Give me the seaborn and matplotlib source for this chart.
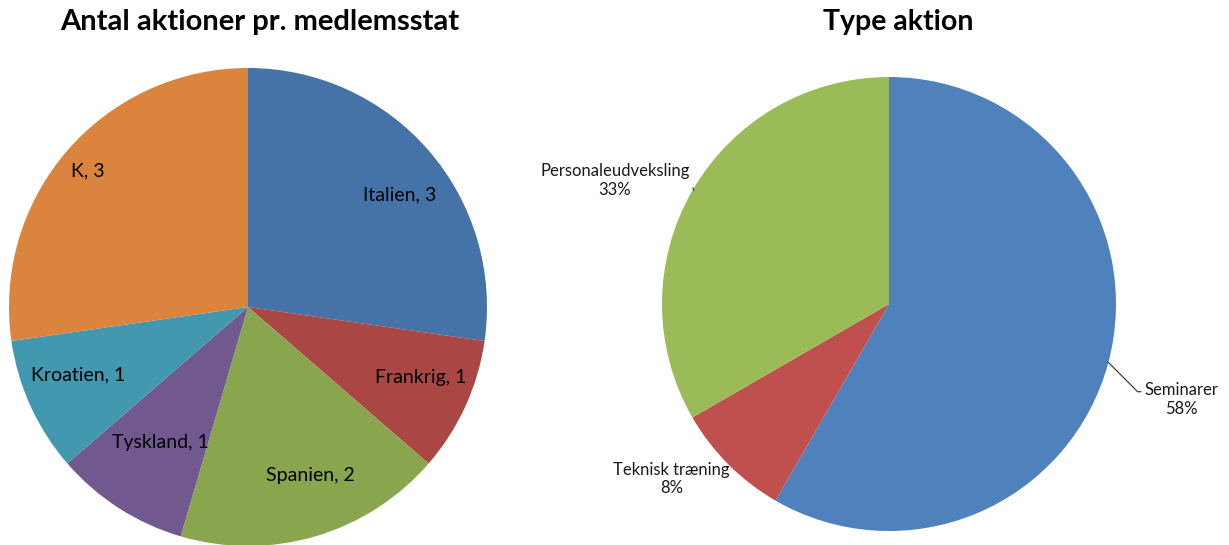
import numpy as np
import seaborn as sns
import matplotlib
matplotlib.use("Agg")
import matplotlib.pyplot as plt

# data
countries = ["Italien", "Frankrig", "Spanien", "Tyskland", "Kroatien", "K"]
country_counts = [3, 1, 2, 1, 1, 3]
country_colors = ["#4572A7", "#AA4643", "#89A54E", "#71588F", "#4198AF", "#DB843D"]

action_types = ["Seminarer", "Teknisk træning", "Personaleudveksling"]
action_counts = [7, 1, 4]
action_colors = ["#4F81BD", "#C0504D", "#9BBB59"]

sns.set_theme(style="white")
plt.rcParams['font.family'] = ['Lato', 'DejaVu Sans']

W, H = 1229, 545
fig = plt.figure(figsize=(W / 100, H / 100), dpi=100)


def px_axes(cx, cy, r):
    # square axes centred on pixel (cx, cy) with radius r
    return fig.add_axes([(cx - r) / W, (H - cy - r) / H, 2 * r / W, 2 * r / H])


# left pie
ax1 = px_axes(248, 307, 239)
labels1 = [f"{c}, {n}" for c, n in zip(countries, country_counts)]
wedges, texts = ax1.pie(country_counts, labels=labels1, colors=country_colors,
                        startangle=90, counterclock=False, radius=1,
                        labeldistance=0.78,
                        wedgeprops=dict(linewidth=0),
                        textprops=dict(fontsize=14, color="#000000", ha="center", va="center"))
# label placement inside the slices (in pie-radius units), as Excel put them
label_pos = [(0.636, 0.469), (0.724, -0.293), (0.259, -0.707),
             (-0.368, -0.565), (-0.711, -0.285), (-0.669, 0.569)]
for t, p in zip(texts, label_pos):
    t.set_position(p)
    t.set_ha("center")
    t.set_va("center")
ax1.set_xlim(-1, 1)
ax1.set_ylim(-1, 1)
ax1.set_aspect("equal")
ax1.axis("off")
fig.text(260 / W, 1 - 22 / H, "Antal aktioner pr. medlemsstat", ha="center", va="center",
         fontsize=21, fontweight="bold", color="#000000")

# right pie
ax2 = px_axes(889, 304, 227)
wedges2, _ = ax2.pie(action_counts, colors=action_colors, startangle=90,
                     counterclock=False, radius=1, wedgeprops=dict(linewidth=0))
ax2.set_xlim(-1, 1)
ax2.set_ylim(-1, 1)
ax2.set_aspect("equal")
ax2.axis("off")

total = sum(action_counts)
pcts = [f"{round(100 * n / total)}%" for n in action_counts]
lbl_kw = dict(fontsize=12, color="#1a1a1a", multialignment="center", va="center")

# Seminarer with leader line
ax2.annotate(f"{action_types[0]}\n{pcts[0]}", xy=(0.965, -0.256), xytext=(1.125, -0.42),
             ha="left", **lbl_kw,
             arrowprops=dict(arrowstyle="-", color="#404040", lw=0.9, relpos=(0, 0.72),
                             shrinkA=0, shrinkB=0,
                             connectionstyle="angle,angleA=0,angleB=-45,rad=0"))
# Teknisk træning
ax2.text(-0.958, -0.771, f"{action_types[1]}\n{pcts[1]}", ha="center", **lbl_kw)
# Personaleudveksling with short leader
ax2.annotate(f"{action_types[2]}\n{pcts[2]}", xy=(-0.86, 0.50), xytext=(-1.207, 0.543),
             ha="center", **lbl_kw,
             arrowprops=dict(arrowstyle="-", color="#404040", lw=0.9, relpos=(1, 0.62),
                             shrinkA=0, shrinkB=0))
fig.text(898 / W, 1 - 22 / H, "Type aktion", ha="center", va="center",
         fontsize=20.5, fontweight="bold", color="#000000")

fig.savefig("out.png", dpi=100, facecolor="white")
